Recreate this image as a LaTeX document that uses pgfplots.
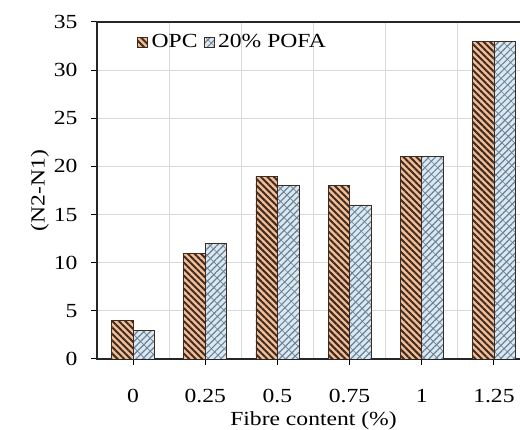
\documentclass[border=0pt]{standalone}
\usepackage{pgfplots}
\pgfplotsset{compat=1.18}
\usepackage{fontspec}
\setmainfont{Liberation Serif}[FakeStretch=1.18]
\usetikzlibrary{patterns.meta}
\definecolor{opcfill}{HTML}{F2BE98}
\definecolor{opcline}{HTML}{3E2A1E}
\definecolor{pofafill}{HTML}{D8E9F6}
\definecolor{pofaline}{HTML}{6F7E8C}
\definecolor{gridc}{HTML}{D9D9D9}
\begin{document}
\begin{tikzpicture}
\useasboundingbox (-97pt,-71pt) rectangle (423pt,359pt);
\clip (-97pt,-71pt) rectangle (423pt,359pt);
\begin{axis}[
  at={(0pt,0pt)}, anchor=south west,
  scale only axis, width=433pt, height=337pt,
  ybar=0pt, bar width=21.5pt,
  xmin=-0.5, xmax=5.5, ymin=0, ymax=35,
  xtick={0,1,2,3,4,5},
  xticklabels={0,0.25,0.5,0.75,1,1.25},
  minor xtick={0.5,1.5,2.5,3.5,4.5},
  ytick={0,5,...,35},
  xtick pos=bottom, ytick pos=left,
  xminorgrids, ymajorgrids,
  grid style={gridc, line width=0.8pt},
  minor grid style={gridc, line width=0.8pt},
  minor x tick style={draw=none},
  tick align=outside,
  major tick length=6pt,
  tick style={black, line width=1pt},
  axis line style={black!85, line width=1.4pt},
  /pgf/number format/assume math mode=true,
  font=\fontsize{20}{24}\selectfont,
  ticklabel style={font=\fontsize{20}{24}\selectfont},
  xticklabel style={yshift=-21pt},
  yticklabel style={xshift=-10pt},
  xlabel={Fibre content (\%)},
  ylabel={(N2-N1)},
  xlabel style={yshift=-2pt},
  ylabel style={yshift=-2pt},
  legend style={at={(0.085,0.975)}, anchor=north west, draw=none, fill=none,
    font=\fontsize{20}{24}\selectfont, column sep=2pt,
    /tikz/every even column/.append style={column sep=4pt}},
  legend columns=2,
  legend image code/.code={\draw[#1, line width=0.6pt] (0pt,-5pt) rectangle (10pt,5pt);},
]
\addplot[draw=opcline, line width=0.8pt, fill=opcfill,
  postaction={pattern={Lines[angle=-45,distance=4.6pt,line width=2pt]}, pattern color=opcline}]
  coordinates {(0,4) (1,11) (2,19) (3,18) (4,21) (5,33)};
\addplot[draw=opcline, line width=0.8pt, fill=pofafill,
  postaction={pattern={Lines[angle=45,distance=4.6pt,line width=1.2pt]}, pattern color=pofaline},
  postaction={pattern={Lines[angle=-45,distance=9pt,line width=0.6pt]}, pattern color=pofaline}]
  coordinates {(0,3) (1,12) (2,18) (3,16) (4,21) (5,33)};
\legend{OPC, 20\% POFA}
\end{axis}
\end{tikzpicture}
\end{document}
